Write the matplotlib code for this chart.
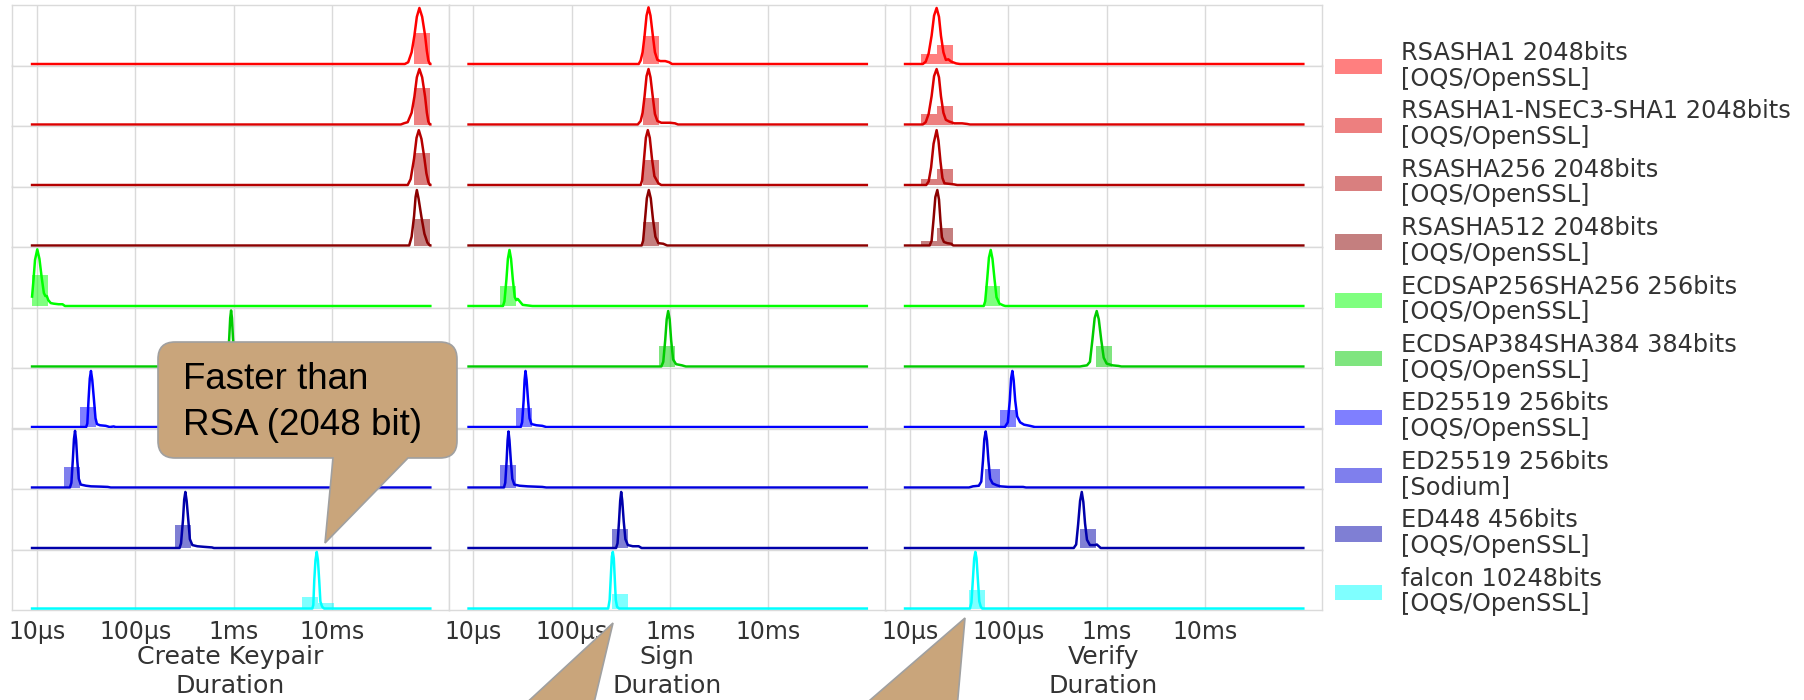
import numpy as np
import matplotlib
matplotlib.use("Agg")
import matplotlib.pyplot as plt
from matplotlib.patches import Patch, PathPatch
from matplotlib.path import Path
from matplotlib.transforms import IdentityTransform
from matplotlib.ticker import NullLocator

# ---------------- data ----------------
OPERATIONS = ["Create Keypair", "Sign", "Verify"]
ALGORITHMS = [
    "RSASHA1 2048bits\n[OQS/OpenSSL]",
    "RSASHA1-NSEC3-SHA1 2048bits\n[OQS/OpenSSL]",
    "RSASHA256 2048bits\n[OQS/OpenSSL]",
    "RSASHA512 2048bits\n[OQS/OpenSSL]",
    "ECDSAP256SHA256 256bits\n[OQS/OpenSSL]",
    "ECDSAP384SHA384 384bits\n[OQS/OpenSSL]",
    "ED25519 256bits\n[OQS/OpenSSL]",
    "ED25519 256bits\n[Sodium]",
    "ED448 456bits\n[OQS/OpenSSL]",
    "falcon 10248bits\n[OQS/OpenSSL]",
]
COLORS = ["#ff0000", "#dd0000", "#b40000", "#8b0000", "#00ff00",
          "#00cc00", "#0000ff", "#0000dd", "#0000aa", "#00ffff"]
TICK_VALUES = [1e-5, 1e-4, 1e-3, 1e-2]
TICK_LABELS = ["10µs", "100µs", "1ms", "10ms"]

# range of all measured durations (log10 seconds)
LOG_MIN, LOG_MAX = -5.05, -1.0
# histogram bins (log10 seconds)
BIN_START, BIN_WIDTH, N_BINS = -5.05, 0.1617, 25

# KDE curves: (log10 seconds, relative density) around each peak
KDE_KEYPAIR = [
    [(-1.26, 0), (-1.225, .03), (-1.19, .2), (-1.162, .48), (-1.137, .8), (-1.111, .95), (-1.083, .8), (-1.053, .48), (-1.035, .22), (-1.02, .06), (-1.005, 0)],
    [(-1.30, 0), (-1.27, .02), (-1.23, .04), (-1.19, .2), (-1.162, .47), (-1.137, .8), (-1.111, .94), (-1.083, .8), (-1.053, .47), (-1.035, .2), (-1.02, .05), (-1.005, 0)],
    [(-1.23, 0), (-1.20, .1), (-1.165, .45), (-1.14, .8), (-1.117, .93), (-1.09, .78), (-1.06, .45), (-1.04, .2), (-1.02, .05), (-1.005, 0)],
    [(-1.215, 0), (-1.19, .15), (-1.165, .5), (-1.15, .82), (-1.137, .94), (-1.12, .8), (-1.09, .48), (-1.06, .2), (-1.03, .05), (-1.005, 0)],
    [(-5.05, .16), (-5.035, .45), (-5.02, .78), (-4.997, .96), (-4.975, .8), (-4.952, .48), (-4.93, .22), (-4.915, .17), (-4.9, .17), (-4.885, .1), (-4.86, .05), (-4.83, .04), (-4.78, .03), (-4.74, .03), (-4.715, 0)],
    [(-3.08, 0), (-3.06, .1), (-3.045, .48), (-3.035, .82), (-3.026, .95), (-3.017, .82), (-3.007, .48), (-2.99, .12), (-2.97, .03), (-2.94, 0)],
    [(-4.50, 0), (-4.488, .06), (-4.475, .48), (-4.463, .82), (-4.451, .95), (-4.438, .8), (-4.42, .45), (-4.405, .15), (-4.39, .05), (-4.36, .03), (-4.30, .02), (-4.26, 0), (-4.22, .01), (-4.2, 0)],
    [(-4.665, 0), (-4.65, .08), (-4.635, .48), (-4.624, .82), (-4.613, .96), (-4.602, .8), (-4.59, .45), (-4.575, .15), (-4.555, .05), (-4.5, .03), (-4.45, .02), (-4.35, .015), (-4.28, .01), (-4.25, 0)],
    [(-3.55, 0), (-3.535, .08), (-3.515, .48), (-3.503, .82), (-3.491, .95), (-3.478, .8), (-3.46, .45), (-3.445, .15), (-3.42, .05), (-3.37, .03), (-3.3, .02), (-3.22, .01), (-3.2, 0)],
    [(-2.2, 0), (-2.19, .06), (-2.18, .48), (-2.168, .82), (-2.155, .96), (-2.143, .82), (-2.13, .48), (-2.118, .12), (-2.1, .03), (-2.08, 0)],
]
KDE_SIGN = [
    [(-3.32, 0), (-3.30, .06), (-3.28, .2), (-3.26, .48), (-3.24, .82), (-3.22, .96), (-3.2, .82), (-3.176, .48), (-3.155, .2), (-3.13, .07), (-3.1, .05), (-3.05, .05), (-3.01, .03), (-2.98, 0)],
    [(-3.33, 0), (-3.30, .06), (-3.28, .2), (-3.26, .48), (-3.24, .82), (-3.22, .94), (-3.2, .8), (-3.176, .46), (-3.155, .18), (-3.13, .06), (-3.09, .03), (-3.0, .03), (-2.95, .02), (-2.92, 0)],
    [(-3.30, 0), (-3.285, .08), (-3.265, .45), (-3.247, .8), (-3.227, .93), (-3.207, .8), (-3.185, .45), (-3.16, .15), (-3.12, .03), (-3.09, 0)],
    [(-3.29, 0), (-3.275, .08), (-3.255, .45), (-3.237, .8), (-3.217, .94), (-3.197, .8), (-3.175, .45), (-3.15, .15), (-3.12, .04), (-3.07, .03), (-3.03, 0)],
    [(-4.70, 0), (-4.685, .08), (-4.665, .45), (-4.65, .8), (-4.634, .95), (-4.618, .8), (-4.6, .45), (-4.58, .15), (-4.565, .1), (-4.55, .12), (-4.53, .08), (-4.5, .02), (-4.45, .01), (-4.4, 0)],
    [(-3.09, 0), (-3.07, .08), (-3.05, .45), (-3.035, .8), (-3.02, .94), (-3.005, .8), (-2.99, .45), (-2.97, .12), (-2.94, .04), (-2.88, .02), (-2.84, 0)],
    [(-4.52, 0), (-4.505, .08), (-4.49, .45), (-4.48, .8), (-4.471, .95), (-4.46, .8), (-4.445, .45), (-4.43, .15), (-4.41, .05), (-4.36, .03), (-4.3, .02), (-4.26, 0)],
    [(-4.69, 0), (-4.677, .08), (-4.663, .45), (-4.653, .8), (-4.644, .95), (-4.634, .8), (-4.62, .45), (-4.605, .15), (-4.585, .05), (-4.53, .03), (-4.45, .02), (-4.3, .01), (-4.26, 0)],
    [(-3.55, 0), (-3.535, .08), (-3.52, .45), (-3.508, .8), (-3.498, .95), (-3.487, .8), (-3.472, .45), (-3.455, .15), (-3.43, .05), (-3.38, .03), (-3.32, .03), (-3.29, 0)],
    [(-3.63, 0), (-3.615, .15), (-3.603, .55), (-3.593, .88), (-3.583, .96), (-3.573, .85), (-3.563, .5), (-3.553, .15), (-3.54, .03), (-3.52, 0)],
]
KDE_VERIFY = [
    [(-4.87, 0), (-4.84, .04), (-4.81, .18), (-4.78, .48), (-4.755, .82), (-4.729, .95), (-4.705, .8), (-4.685, .48), (-4.66, .2), (-4.635, .07), (-4.61, .08), (-4.58, .04), (-4.53, .01), (-4.49, 0)],
    [(-4.87, 0), (-4.84, .04), (-4.81, .18), (-4.78, .48), (-4.755, .82), (-4.729, .94), (-4.705, .8), (-4.685, .48), (-4.66, .2), (-4.635, .08), (-4.6, .05), (-4.55, .02), (-4.47, .02), (-4.42, .01), (-4.39, 0)],
    [(-4.835, 0), (-4.81, .06), (-4.785, .3), (-4.76, .7), (-4.729, .93), (-4.71, .75), (-4.69, .4), (-4.67, .12), (-4.65, .03), (-4.6, .02), (-4.55, .01), (-4.52, 0)],
    [(-4.80, 0), (-4.78, .08), (-4.76, .45), (-4.742, .82), (-4.722, .94), (-4.705, .78), (-4.69, .42), (-4.675, .14), (-4.655, .06), (-4.62, .04), (-4.58, .03), (-4.56, 0)],
    [(-4.25, 0), (-4.235, .08), (-4.215, .45), (-4.197, .82), (-4.179, .95), (-4.161, .8), (-4.14, .45), (-4.12, .15), (-4.09, .04), (-4.05, .01), (-4.03, 0)],
    [(-3.27, 0), (-3.24, .01), (-3.2, .02), (-3.17, .08), (-3.145, .45), (-3.122, .82), (-3.101, .94), (-3.08, .8), (-3.055, .45), (-3.03, .15), (-3.0, .05), (-2.94, .02), (-2.88, .01), (-2.85, 0)],
    [(-4.035, 0), (-4.005, .08), (-3.985, .45), (-3.972, .82), (-3.959, .95), (-3.946, .8), (-3.93, .45), (-3.91, .18), (-3.88, .08), (-3.84, .04), (-3.78, .02), (-3.73, 0)],
    [(-4.40, 0), (-4.36, .02), (-4.3, .03), (-4.275, .1), (-4.258, .45), (-4.244, .82), (-4.23, .95), (-4.217, .8), (-4.202, .45), (-4.185, .15), (-4.16, .07), (-4.12, .04), (-4.08, .02), (-4.0, .01), (-3.85, .01), (-3.82, 0)],
    [(-3.335, 0), (-3.31, .06), (-3.29, .4), (-3.27, .8), (-3.253, .95), (-3.237, .78), (-3.22, .42), (-3.2, .14), (-3.17, .05), (-3.12, .05), (-3.1, .06), (-3.08, .03), (-3.06, 0)],
    [(-4.39, 0), (-4.375, .1), (-4.36, .5), (-4.347, .85), (-4.335, .96), (-4.323, .85), (-4.31, .5), (-4.295, .12), (-4.28, .03), (-4.265, 0)],
]

# histogram bar heights: {bin index: relative height}
HIST_KEYPAIR = [{24: .52}, {24: .62}, {24: .54}, {24: .45}, {0: .52}, {12: .40},
                {3: .34}, {2: .34}, {9: .39}, {17: .20, 18: .09}]
HIST_SIGN = [{11: .48}, {11: .45}, {11: .43}, {11: .40}, {2: .34}, {12: .35},
             {3: .33}, {2: .38}, {9: .32}, {9: .25}]
HIST_VERIFY = [{1: .17, 2: .33}, {1: .17, 2: .32}, {1: .11, 2: .27}, {1: .07, 2: .29},
               {5: .34}, {12: .35}, {6: .29}, {5: .31}, {11: .32}, {4: .31}]

KDES = [KDE_KEYPAIR, KDE_SIGN, KDE_VERIFY]
HISTS = [HIST_KEYPAIR, HIST_SIGN, HIST_VERIFY]

# ---------------- figure ----------------
W, H = 1804, 700
fig = plt.figure(figsize=(W / 100, H / 100), dpi=100)
plt.rcParams["font.family"] = ["DejaVu Sans"]
TEXT = "#333333"
GRID = "#dadada"

panel_left = [12, 448.5, 885]
panel_w = 437
top, row_h = 5, 60.5
n_rows = len(ALGORITHMS)
edges = BIN_START + BIN_WIDTH * np.arange(N_BINS + 1)

for p in range(3):
    for r in range(n_rows):
        y_top = top + row_h * r
        ax = fig.add_axes([panel_left[p] / W, 1 - (y_top + row_h) / H,
                           panel_w / W, row_h / H])
        ax.set_xscale("log")
        ax.set_axisbelow(True)
        col = COLORS[r]
        for k, hgt in HISTS[p][r].items():
            lo, hi = 10 ** edges[k], 10 ** edges[k + 1]
            ax.bar(lo, hgt, width=hi - lo, align="edge", color=col,
                   alpha=0.5, linewidth=0, zorder=2)
        pts = KDES[p][r]
        xs = [q[0] for q in pts]
        ys = [q[1] for q in pts]
        if xs[0] > LOG_MIN:
            xs = [LOG_MIN] + xs
            ys = [0] + ys
        if xs[-1] < LOG_MAX:
            xs = xs + [LOG_MAX]
            ys = ys + [0]
        ax.plot(10 ** np.array(xs), ys, color=col, lw=1.8, zorder=3,
                solid_joinstyle="round")
        ax.set_xlim(10 ** -5.254, 10 ** -0.81)
        ax.set_ylim(-0.025, 1.0)
        ax.set_yticks([])
        ax.set_xticks(TICK_VALUES)
        ax.xaxis.set_minor_locator(NullLocator())
        ax.grid(True, axis="x", color=GRID, lw=1.0)
        for s in ax.spines.values():
            s.set_color(GRID)
            s.set_linewidth(1.0)
        ax.tick_params(axis="x", length=0, pad=7, labelsize=17,
                       labelcolor=TEXT)
        if r == n_rows - 1:
            ax.set_xticklabels(TICK_LABELS)
            ax.set_xlabel(OPERATIONS[p] + "\nDuration", fontsize=18.2,
                          color=TEXT, labelpad=1.2, linespacing=1.22)
        else:
            ax.set_xticklabels([])

handles = [Patch(facecolor=c, alpha=0.5, linewidth=0) for c in COLORS]
leg = fig.legend(handles, ALGORITHMS, loc="upper left",
                 bbox_to_anchor=(1335 / W, 1 - 41 / H), frameon=False,
                 fontsize=17.3, handlelength=1.95, handleheight=0.6,
                 handletextpad=0.78, labelspacing=0.37, borderpad=0,
                 borderaxespad=0, labelcolor=TEXT)
for t in leg.get_texts():
    t.set_linespacing(1.08)

# ---------------- callouts ----------------
BUBBLE = "#c9a57b"
EDGE = "#a0a0a0"


def px(x, y):
    return (x, H - y)


def bubble_path(x0, y0, x1, y1, r, xb1, xb2, tip):
    verts = [px(x0 + r, y0), px(x1 - r, y0), px(x1, y0), px(x1, y0 + r),
             px(x1, y1 - r), px(x1, y1), px(x1 - r, y1),
             px(xb2, y1), px(*tip), px(xb1, y1),
             px(x0 + r, y1), px(x0, y1), px(x0, y1 - r),
             px(x0, y0 + r), px(x0, y0), px(x0 + r, y0), px(x0 + r, y0)]
    codes = [Path.MOVETO, Path.LINETO, Path.CURVE3, Path.CURVE3,
             Path.LINETO, Path.CURVE3, Path.CURVE3,
             Path.LINETO, Path.LINETO, Path.LINETO,
             Path.LINETO, Path.CURVE3, Path.CURVE3,
             Path.LINETO, Path.CURVE3, Path.CURVE3, Path.CLOSEPOLY]
    return Path(verts, codes)


b1 = PathPatch(bubble_path(158, 342, 457, 458, 17, 333, 408, (325, 543)),
               transform=IdentityTransform(), facecolor=BUBBLE,
               edgecolor=EDGE, lw=1.2, zorder=5)
fig.patches.append(b1)
fig.text(183 / W, 1 - 362 / H, "Faster than\nRSA (2048 bit)",
         family="Liberation Sans", fontsize=26.5, color="black",
         ha="left", va="top", zorder=6, linespacing=1.42)

for tip, left, right in [((613, 623), (508, 720), (590, 720)),
                         ((965, 618), (847, 720), (956, 720))]:
    path = Path([px(*left), px(*tip), px(*right), px(*left)],
                [Path.MOVETO, Path.LINETO, Path.LINETO, Path.CLOSEPOLY])
    fig.patches.append(PathPatch(path, transform=IdentityTransform(),
                                 facecolor=BUBBLE, edgecolor=EDGE, lw=1.2,
                                 zorder=5))

fig.savefig("out.png", dpi=100)
